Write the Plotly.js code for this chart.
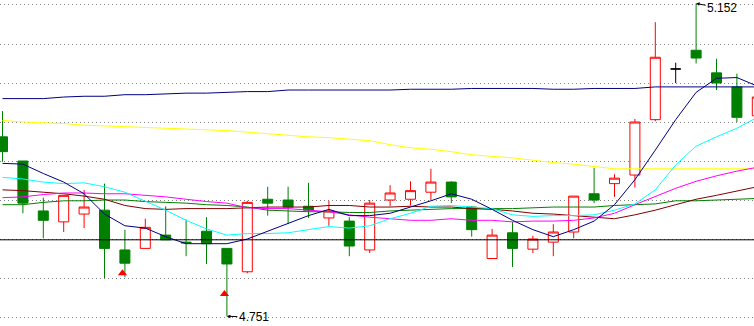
<!DOCTYPE html>
<html>
<head>
<meta charset="utf-8">
<script src="https://cdn.plot.ly/plotly-3.0.1.min.js"></script>
<style>html,body{margin:0;padding:0;background:#fff;}#chart{width:754px;height:326px;}</style>
</head>
<body>
<div id="chart"></div>
<script>
// ---- data ----
var opens  = [4.981,4.950,4.886,4.872,4.882,4.887,4.836,4.838,4.855,4.846,4.860,4.838,4.808,4.901,4.900,4.892,4.877,4.873,4.836,4.900,4.901,4.910,4.923,4.891,4.825,4.858,4.837,4.846,4.859,4.908,4.921,4.932,5.003,5.068,5.092,5.063,5.045,5.008];
var highs  = [5.014,4.950,4.903,4.906,4.913,4.921,4.862,4.876,4.892,4.875,4.878,4.838,4.899,4.917,4.917,4.922,4.899,4.878,4.900,4.919,4.924,4.940,4.924,4.892,4.863,4.872,4.854,4.869,4.905,4.941,4.933,5.004,5.128,5.076,5.152,5.081,5.062,5.032];
var lows   = [4.949,4.883,4.851,4.859,4.864,4.800,4.801,4.838,4.849,4.828,4.818,4.751,4.806,4.880,4.869,4.877,4.867,4.828,4.832,4.892,4.893,4.900,4.896,4.853,4.825,4.814,4.832,4.828,4.851,4.896,4.904,4.916,5.001,5.050,5.075,5.041,5.000,5.008];
var closes = [4.962,4.896,4.874,4.906,4.891,4.838,4.819,4.865,4.849,4.845,4.844,4.818,4.897,4.896,4.891,4.887,4.886,4.841,4.896,4.909,4.912,4.923,4.904,4.862,4.855,4.838,4.850,4.859,4.905,4.900,4.928,5.000,5.083,5.068,5.082,5.050,5.006,5.032];

var ma5   = [4.947,4.946,4.934,4.923,4.908,4.882,4.867,4.864,4.853,4.844,4.844,4.844,4.850,4.860,4.870,4.880,4.888,4.880,4.880,4.883,4.891,4.899,4.908,4.901,4.888,4.874,4.862,4.853,4.862,4.873,4.894,4.926,4.964,5.003,5.038,5.056,5.057,5.046];
var ma10  = [4.929,4.927,4.923,4.921,4.922,4.917,4.910,4.899,4.887,4.874,4.863,4.855,4.857,4.857,4.858,4.862,4.866,4.864,4.867,4.876,4.883,4.892,4.893,4.891,4.889,4.881,4.879,4.880,4.880,4.881,4.887,4.895,4.913,4.945,4.969,4.981,4.992,5.006];
var ma20  = [4.903,4.904,4.907,4.909,4.909,4.908,4.908,4.906,4.904,4.901,4.898,4.896,4.890,4.889,4.889,4.887,4.885,4.881,4.878,4.876,4.874,4.874,4.876,4.874,4.874,4.872,4.873,4.873,4.874,4.877,4.883,4.894,4.905,4.915,4.924,4.931,4.937,4.942];
var ma30  = [4.913,4.912,4.910,4.908,4.905,4.901,4.893,4.889,4.888,4.889,4.889,4.889,4.890,4.891,4.891,4.891,4.893,4.893,4.891,4.891,4.892,4.891,4.891,4.889,4.888,4.886,4.883,4.882,4.880,4.878,4.876,4.881,4.887,4.894,4.901,4.906,4.911,4.917];
var ma60  = [4.894,4.894,4.897,4.899,4.899,4.900,4.900,4.898,4.897,4.896,4.894,4.893,4.891,4.887,4.886,4.885,4.885,4.884,4.884,4.886,4.887,4.888,4.889,4.889,4.889,4.889,4.890,4.891,4.891,4.891,4.893,4.894,4.895,4.899,4.899,4.900,4.901,4.902];
var ma120 = [5.002,5.000,4.999,4.998,4.996,4.995,4.994,4.993,4.992,4.991,4.990,4.989,4.987,4.985,4.983,4.981,4.980,4.978,4.976,4.971,4.967,4.965,4.962,4.958,4.956,4.954,4.951,4.948,4.946,4.943,4.940,4.940,4.940,4.940,4.940,4.940,4.940,4.940];
var ma250 = [5.030,5.030,5.030,5.032,5.033,5.033,5.035,5.035,5.036,5.037,5.037,5.038,5.039,5.039,5.041,5.041,5.041,5.041,5.041,5.041,5.042,5.042,5.042,5.043,5.043,5.043,5.043,5.042,5.042,5.043,5.043,5.043,5.045,5.045,5.045,5.045,5.045,5.045];

var refPrice = 4.849;
var signalIdx = [6, 11];
var signalPrice = [4.806, 4.7795];

// ---- build traces ----
var idx = opens.map(function(_, i){ return i; });
function group(test){
  var g = {x:[],open:[],high:[],low:[],close:[]};
  idx.forEach(function(i){
    if(test(opens[i], closes[i])){
      g.x.push(i); g.open.push(opens[i]); g.high.push(highs[i]); g.low.push(lows[i]); g.close.push(closes[i]);
    }
  });
  return g;
}
function candle(g, lineColor, fill){
  var st = {line:{color:lineColor,width:1}, fillcolor:fill};
  return {type:'candlestick', x:g.x, open:g.open, high:g.high, low:g.low, close:g.close,
          increasing:st, decreasing:st, whiskerwidth:0, hoverinfo:'skip', showlegend:false};
}
var up = group(function(o,c){return c>o;});
var dn = group(function(o,c){return c<o;});
var fl = group(function(o,c){return c===o;});

function maLine(y, color){
  return {type:'scatter', mode:'lines', x:idx, y:y, line:{color:color,width:1}, hoverinfo:'skip', showlegend:false};
}

var traces = [
  candle(up, '#ff0000', '#ffffff'),
  candle(dn, '#008000', '#008000'),
  candle(fl, '#000000', '#000000'),
  maLine(ma250, '#000080'),
  maLine(ma120, '#ffff00'),
  maLine(ma60, '#008000'),
  maLine(ma30, '#800000'),
  maLine(ma20, '#ff00ff'),
  maLine(ma10, '#00ffff'),
  maLine(ma5, '#000080'),
  {type:'scatter', mode:'markers', x:signalIdx.map(function(i){return i-0.12;}), y:signalPrice,
   marker:{symbol:'triangle-up', size:8, color:'#ff0000'}, hoverinfo:'skip', showlegend:false}
];

var hiIdx = highs.indexOf(Math.max.apply(null, highs));
var loIdx = lows.indexOf(Math.min.apply(null, lows));

var layout = {
  width:754, height:326,
  margin:{l:0,r:0,t:0,b:0},
  paper_bgcolor:'#ffffff', plot_bgcolor:'#ffffff',
  showlegend:false,
  xaxis:{range:[-0.1225,36.838], showgrid:false, zeroline:false, showticklabels:false, ticks:'',
         showline:false, rangeslider:{visible:false}, fixedrange:true},
  yaxis:{range:[4.7385,5.1564], showgrid:true, gridcolor:'#808080', griddash:'1px,3px', gridwidth:1,
         tick0:4.75, dtick:0.05, zeroline:false, showticklabels:false, ticks:'', showline:false, fixedrange:true},
  shapes:[{type:'line', xref:'paper', x0:0, x1:1, yref:'y', y0:refPrice, y1:refPrice,
           line:{color:'#000000', width:1}, layer:'above'}],
  annotations:[
    {x:hiIdx, y:highs[hiIdx], text:highs[hiIdx].toFixed(3), showarrow:true, arrowhead:2, arrowsize:0.7,
     arrowwidth:1, arrowcolor:'#000000', ax:26, ay:5, font:{family:'Liberation Sans, Arial', size:12, color:'#000000'}},
    {x:loIdx, y:lows[loIdx], text:lows[loIdx].toFixed(3), showarrow:true, arrowhead:2, arrowsize:0.7,
     arrowwidth:1, arrowcolor:'#000000', ax:27, ay:1, font:{family:'Liberation Sans, Arial', size:12, color:'#000000'}}
  ]
};

Plotly.newPlot('chart', traces, layout, {staticPlot:true, displayModeBar:false});
</script>
</body>
</html>
